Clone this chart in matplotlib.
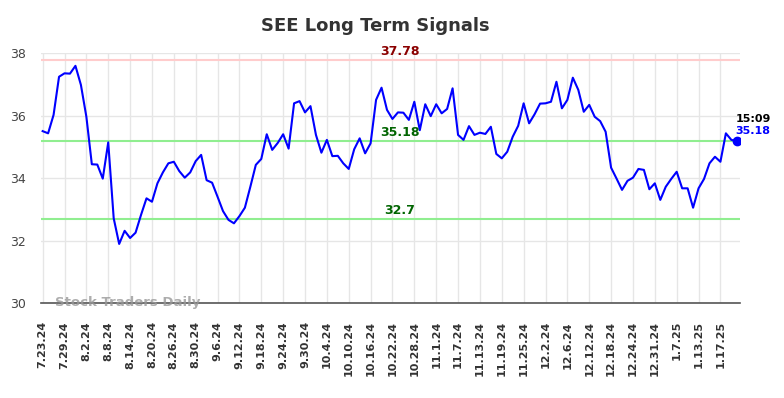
import numpy as np
import matplotlib.pyplot as plt

# closing prices, one per trading day (7.23.24 -> 1.22.25)
prices = [35.50, 35.43, 36.02, 37.24, 37.35, 37.34, 37.59, 36.98, 35.96, 34.44,
          34.43, 33.98, 35.14, 32.71, 31.89, 32.31, 32.08, 32.25, 32.82, 33.35,
          33.24, 33.83, 34.18, 34.47, 34.52, 34.22, 34.01, 34.18, 34.54, 34.74,
          33.93, 33.85, 33.40, 32.94, 32.66, 32.55, 32.78, 33.05, 33.72, 34.42,
          34.61, 35.40, 34.90, 35.12, 35.40, 34.94, 36.39, 36.46, 36.10, 36.30,
          35.38, 34.81, 35.22, 34.70, 34.71, 34.47, 34.29, 34.92, 35.27, 34.79,
          35.11, 36.50, 36.89, 36.18, 35.89, 36.10, 36.09, 35.86, 36.44, 35.53,
          36.36, 35.98, 36.36, 36.07, 36.21, 36.87, 35.38, 35.22, 35.66, 35.38,
          35.45, 35.41, 35.64, 34.77, 34.63, 34.84, 35.32, 35.67, 36.39, 35.75,
          36.04, 36.38, 36.39, 36.44, 37.08, 36.23, 36.50, 37.21, 36.82, 36.12,
          36.34, 35.96, 35.82, 35.48, 34.33, 33.98, 33.62, 33.91, 34.01, 34.29,
          34.26, 33.64, 33.83, 33.30, 33.72, 33.97, 34.20, 33.67, 33.67, 33.05,
          33.67, 33.97, 34.47, 34.68, 34.52, 35.43, 35.22, 35.18]

# one label every 4 trading days
tick_labels = ['7.23.24', '7.29.24', '8.2.24', '8.8.24', '8.14.24', '8.20.24',
               '8.26.24', '8.30.24', '9.6.24', '9.12.24', '9.18.24', '9.24.24',
               '9.30.24', '10.4.24', '10.10.24', '10.16.24', '10.22.24', '10.28.24',
               '11.1.24', '11.7.24', '11.13.24', '11.19.24', '11.25.24', '12.2.24',
               '12.6.24', '12.12.24', '12.18.24', '12.24.24', '12.31.24', '1.7.25',
               '1.13.25', '1.17.25']

resistance = 37.78
support_levels = [35.18, 32.7]
last_time = '15:09'

x = np.arange(len(prices))

fig = plt.figure(figsize=(7.84, 3.98), dpi=100)
ax = fig.add_axes([0.0523, 0.2387, 0.8917, 0.6281])

ax.set_xlim(-0.3, 127.6)
ax.set_ylim(30, 38)

# grid
ax.set_yticks([30, 32, 34, 36, 38])
ax.set_xticks(x[::4])
ax.set_xticklabels(tick_labels, rotation=90, fontsize=8, fontweight='bold', color='#333333')
ax.grid(True, color='#e6e6e6', linewidth=1)
ax.set_axisbelow(True)
ax.tick_params(axis='x', length=0, pad=13)
ax.tick_params(axis='y', length=0, pad=11, labelsize=9, labelcolor='#444444')
for s in ['top', 'right', 'left']:
    ax.spines[s].set_visible(False)
ax.spines['bottom'].set_color('#555555')
ax.spines['bottom'].set_linewidth(1.2)

# levels
ax.axhline(resistance, color='#ffcccc', linewidth=1.5)
for lv in support_levels:
    ax.axhline(lv, color='#90ee90', linewidth=1.5)

label_x = 65.3
ax.text(label_x, resistance + 0.06, f'{resistance}', color='#8b0000', fontsize=9,
        fontweight='bold', ha='center', va='bottom')
for lv in support_levels:
    ax.text(label_x, lv + 0.06, f'{lv}', color='#006400', fontsize=9,
            fontweight='bold', ha='center', va='bottom')

# price line
ax.plot(x, prices, color='#0000ff', linewidth=1.5)
ax.plot(x[-1], prices[-1], 'o', color='#0000ff', markersize=6)

ax.text(x[-1] - 0.2, prices[-1] + 0.55, last_time, fontsize=8, fontweight='bold',
        color='black', ha='left', va='bottom', clip_on=False)
ax.text(x[-1] - 0.2, prices[-1] + 0.15, f'{prices[-1]:.2f}', fontsize=8,
        fontweight='bold', color='#0000ff', ha='left', va='bottom', clip_on=False)

# watermark
ax.text(2.2, 30.0, 'Stock Traders Daily', fontsize=9.5, fontweight='bold',
        color='#999999', alpha=0.8, ha='left', va='center')

fig.text(375 / 784, 1 - 26 / 398, 'SEE Long Term Signals', fontsize=13,
         fontweight='bold', color='#333333', ha='center', va='center')

plt.savefig('out.png', dpi=100)
